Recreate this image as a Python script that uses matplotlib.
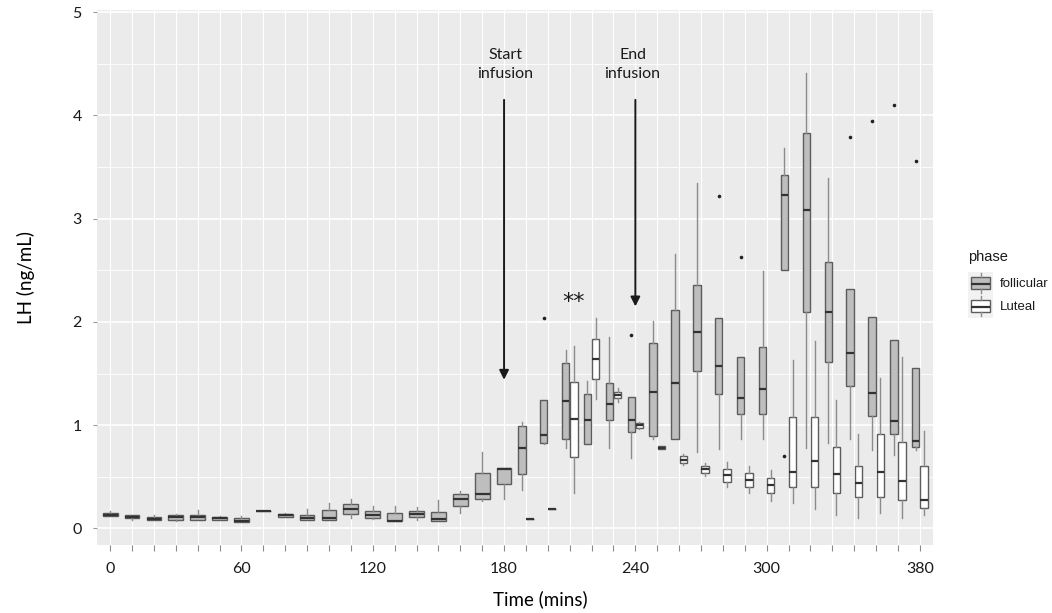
import matplotlib
matplotlib.use('Agg')
import matplotlib.pyplot as plt
from matplotlib.ticker import MultipleLocator

# time points are a discrete axis: 38 levels, only some of them labelled
n_levels = 38
tick_pos = [0, 6, 12, 18, 24, 30, 37]
tick_labels = ['0', '60', '120', '180', '240', '300', '380']

# follicular phase box statistics (one per time level)
fol_pos = list(range(38))
fol_lo = [0.12, 0.08, 0.079, 0.072, 0.079, 0.085, 0.066, 0.166, 0.108, 0.079,
          0.079, 0.098, 0.095, 0.07, 0.082, 0.07, 0.153, 0.263, 0.29, 0.373,
          0.82, 0.78, 0.821, 0.776, 0.68, 0.863, 0.866, 0.744, 0.767, 0.866,
          0.866, 2.5, 0.782, 0.831, 0.866, 0.76, 0.712, 0.76]
fol_q1 = [0.12, 0.10, 0.079, 0.085, 0.079, 0.085, 0.066, 0.166, 0.108, 0.079,
          0.085, 0.137, 0.10, 0.07, 0.108, 0.07, 0.215, 0.29, 0.427, 0.528,
          0.831, 0.866, 0.821, 1.047, 0.931, 0.895, 0.866, 1.525, 1.305, 1.105,
          1.105, 2.5, 2.099, 1.615, 1.379, 1.089, 0.915, 0.792]
fol_med = [0.13, 0.115, 0.092, 0.108, 0.11, 0.10, 0.075, 0.166, 0.128, 0.10,
           0.10, 0.19, 0.128, 0.075, 0.137, 0.092, 0.29, 0.334, 0.573, 0.782,
           0.908, 1.231, 1.047, 1.208, 1.047, 1.318, 1.411, 1.905, 1.57, 1.266,
           1.348, 3.225, 3.086, 2.096, 1.696, 1.309, 1.038, 0.85]
fol_q3 = [0.145, 0.128, 0.114, 0.128, 0.13, 0.114, 0.099, 0.166, 0.14, 0.128,
          0.176, 0.234, 0.166, 0.147, 0.169, 0.16, 0.334, 0.54, 0.589, 0.99,
          1.244, 1.6, 1.305, 1.405, 1.27, 1.793, 2.118, 2.354, 2.035, 1.663,
          1.754, 3.427, 3.826, 2.58, 2.316, 2.047, 1.828, 1.551]
fol_hi = [0.165, 0.128, 0.128, 0.14, 0.182, 0.12, 0.12, 0.166, 0.145, 0.186,
          0.25, 0.285, 0.22, 0.22, 0.205, 0.276, 0.366, 0.738, 0.589, 1.034,
          1.244, 1.725, 1.428, 1.85, 1.27, 2.01, 2.654, 3.348, 2.035, 1.663,
          2.496, 3.68, 4.406, 3.39, 2.316, 2.047, 1.828, 1.551]
fol_out_pos = [20, 24, 28, 29, 31, 34, 35, 36, 37]
fol_out_val = [2.04, 1.873, 3.222, 2.631, 0.702, 3.787, 3.945, 4.1, 3.56]

# luteal phase box statistics (from level 19 on)
lut_pos = list(range(19, 38))
lut_lo = [0.092, 0.19, 0.347, 1.257, 1.227, 0.965, 0.767, 0.615, 0.51, 0.399,
          0.341, 0.266, 0.244, 0.186, 0.131, 0.099, 0.147, 0.099, 0.131]
lut_q1 = [0.092, 0.19, 0.692, 1.444, 1.26, 0.973, 0.767, 0.631, 0.54, 0.453,
          0.399, 0.341, 0.402, 0.402, 0.347, 0.302, 0.305, 0.276, 0.201]
lut_med = [0.092, 0.19, 1.057, 1.644, 1.292, 0.999, 0.783, 0.663, 0.576, 0.515,
           0.47, 0.418, 0.55, 0.656, 0.53, 0.437, 0.547, 0.46, 0.273]
lut_q3 = [0.092, 0.19, 1.415, 1.834, 1.324, 1.024, 0.799, 0.699, 0.608, 0.576,
          0.534, 0.492, 1.084, 1.076, 0.786, 0.602, 0.912, 0.84, 0.602]
lut_hi = [0.092, 0.19, 1.77, 2.035, 1.36, 1.03, 0.799, 0.72, 0.63, 0.641,
          0.605, 0.566, 1.635, 1.815, 1.244, 0.912, 1.454, 1.663, 0.944]

phase_names = ['follicular', 'Luteal']
phase_fill = ['#bebebe', 'white']

txt_font = ['Lato', 'DejaVu Sans']
edge_col = '#5c5c5c'
med_col = '#333333'
whisk_col = '#8c8c8c'


def make_stats(pos, lo, q1, med, q3, hi, out_pos=(), out_val=()):
    stats = []
    for p, a, b, c, d, e in zip(pos, lo, q1, med, q3, hi):
        fl = [v for op, v in zip(out_pos, out_val) if op == p]
        stats.append(dict(whislo=a, q1=b, med=c, q3=d, whishi=e, fliers=fl))
    return stats


def draw_boxes(axis, stats, positions, widths, fill):
    axis.bxp(stats, positions=positions, widths=widths, showcaps=False,
             patch_artist=True, manage_ticks=False,
             boxprops=dict(facecolor=fill, edgecolor=edge_col, linewidth=1.0),
             medianprops=dict(color=med_col, linewidth=1.6),
             whiskerprops=dict(color=whisk_col, linewidth=1.0),
             flierprops=dict(marker='o', markersize=2.6, markerfacecolor='#222222',
                             markeredgecolor='none'))


fig = plt.figure(figsize=(10.52, 6.13), dpi=100)
ax = fig.add_axes([97 / 1052, 1 - 545 / 613, 836 / 1052, 535 / 613])
ax.set_facecolor('#ebebeb')
ax.set_axisbelow(True)

# dodge like ggplot: shared levels get half-width boxes side by side
shared = set(fol_pos) & set(lut_pos)
full_w, half_w, shift = 0.675, 0.3375, 0.1875

fol_x = [p - shift if p in shared else p for p in fol_pos]
fol_w = [half_w if p in shared else full_w for p in fol_pos]
lut_x = [p + shift if p in shared else p for p in lut_pos]
lut_w = [half_w if p in shared else full_w for p in lut_pos]

draw_boxes(ax, make_stats(fol_pos, fol_lo, fol_q1, fol_med, fol_q3, fol_hi,
                          fol_out_pos, fol_out_val), fol_x, fol_w, phase_fill[0])
draw_boxes(ax, make_stats(lut_pos, lut_lo, lut_q1, lut_med, lut_q3, lut_hi),
           lut_x, lut_w, phase_fill[1])

ax.set_xlim(-0.6, n_levels - 1 + 0.6)
ax.set_ylim(-0.16, 5.02)

ax.set_xticks(range(n_levels))
ax.set_xticklabels([tick_labels[tick_pos.index(i)] if i in tick_pos else ''
                    for i in range(n_levels)], family=txt_font, fontsize=11.5,
                   color='#1a1a1a')
ax.set_yticks(range(6))
ax.set_yticklabels([str(v) for v in range(6)], family=txt_font, fontsize=11.5,
                   color='#1a1a1a')
ax.yaxis.set_minor_locator(MultipleLocator(0.5))
ax.tick_params(axis='x', length=4, color='#8a8a8a', pad=8)
ax.tick_params(axis='y', length=3, color='#9a9a9a', pad=8)
ax.tick_params(axis='y', which='minor', length=0)

ax.grid(axis='y', which='major', color='white', linewidth=1.2)
ax.grid(axis='y', which='minor', color='white', linewidth=0.6)
ax.grid(axis='x', which='major', color='white', linewidth=0.8)
for s in ax.spines.values():
    s.set_visible(False)

ax.set_xlabel('Time (mins)', family=txt_font, fontsize=13.5)
ax.set_ylabel('LH (ng/mL)', family=txt_font, fontsize=13.5)
ax.xaxis.set_label_coords(0.53, -0.085)
ax.yaxis.set_label_coords(-0.074, 0.5)

# infusion markers
arrow_kw = dict(arrowstyle='-|>', color='#1a1a1a', lw=1.4, mutation_scale=14,
                shrinkA=0, shrinkB=0)
ax.annotate('', xy=(18, 1.44), xytext=(18, 4.15), arrowprops=arrow_kw)
ax.annotate('', xy=(24, 2.15), xytext=(24, 4.15), arrowprops=arrow_kw)
ax.text(18.05, 4.49, 'Start\ninfusion', ha='center', va='center',
        family=txt_font, fontsize=11.5, linespacing=1.45, color='#1a1a1a')
ax.text(23.87, 4.49, 'End\ninfusion', ha='center', va='center',
        family=txt_font, fontsize=11.5, linespacing=1.45, color='#1a1a1a')
ax.text(21.17, 2.19, '**', ha='center', va='center', family='DejaVu Sans',
        fontsize=16, color='#1a1a1a')

# legend drawn as small boxplot keys
fig.text(968 / 1052, 1 - 257 / 613, 'phase', family='Liberation Sans',
         fontsize=10.5, va='center', ha='left', color='#1a1a1a')
for k, (name, fill) in enumerate(zip(phase_names, phase_fill)):
    top = 272 + k * 23
    kax = fig.add_axes([968 / 1052, 1 - (top + 23) / 613, 25 / 1052, 23 / 613])
    kax.set_facecolor('#f2f2f2')
    kax.set_xlim(-0.5, 0.5)
    kax.set_ylim(0, 1)
    key_stats = [dict(whislo=0.08, q1=0.27, med=0.5, q3=0.8, whishi=0.97, fliers=[])]
    draw_boxes(kax, key_stats, [0], [0.75], fill)
    kax.set_xticks([])
    kax.set_yticks([])
    for s in kax.spines.values():
        s.set_visible(False)
    fig.text(1000 / 1052, 1 - (top + 12) / 613, name, family='Liberation Sans',
             fontsize=9.5, va='center', ha='left', color='#1a1a1a')

fig.savefig('out.png', dpi=100)
